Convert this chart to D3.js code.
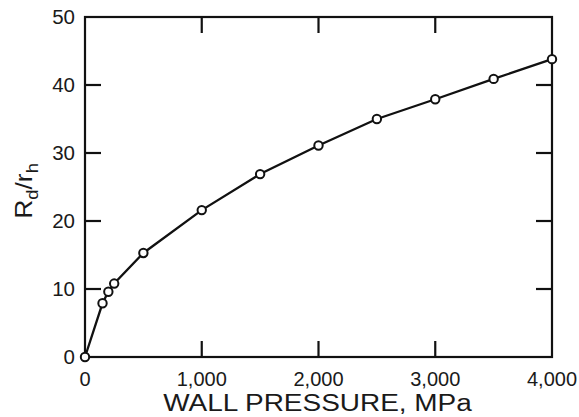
<!DOCTYPE html>
<html>
<head>
<meta charset="utf-8">
<script src="https://cdn.jsdelivr.net/npm/d3@7"></script>
<style>
  body { margin: 0; background: #fff; }
  text { font-family: "Liberation Sans", Arial, sans-serif; fill: #1a1a1a; }
</style>
</head>
<body>
<div id="graph"></div>
<script>
// wall pressure (MPa) vs Rd/rh
var pressure = [0, 150, 200, 250, 500, 1000, 1500, 2000, 2500, 3000, 3500, 4000]
var ratio    = [0, 7.9, 9.6, 10.8, 15.3, 21.6, 26.9, 31.1, 35.0, 37.9, 40.9, 43.8]

var xTicks = [0, 1000, 2000, 3000, 4000]
var yTicks = [0, 10, 20, 30, 40, 50]

var W = 579, H = 417
var m = { left: 85, right: 27, top: 17, bottom: 60 }

var svg = d3.select('#graph').append('svg')
  .attr('width', W)
  .attr('height', H)

var x = d3.scaleLinear().domain([0, 4000]).range([m.left, W - m.right])
var y = d3.scaleLinear().domain([0, 50]).range([H - m.bottom, m.top])

var tickLen = 16
var fmt = d3.format(',')

// inward ticks on all four sides (skip the corners)
var inner = xTicks.slice(1, -1)
var innerY = yTicks.slice(1, -1)

svg.append('g').selectAll('line.xb').data(inner).join('line')
  .attr('x1', d => x(d)).attr('x2', d => x(d))
  .attr('y1', y(0)).attr('y2', y(0) - tickLen)
svg.append('g').selectAll('line.xt').data(inner).join('line')
  .attr('x1', d => x(d)).attr('x2', d => x(d))
  .attr('y1', y(50)).attr('y2', y(50) + tickLen)
svg.append('g').selectAll('line.yl').data(innerY).join('line')
  .attr('y1', d => y(d)).attr('y2', d => y(d))
  .attr('x1', x(0)).attr('x2', x(0) + tickLen)
svg.append('g').selectAll('line.yr').data(innerY).join('line')
  .attr('y1', d => y(d)).attr('y2', d => y(d))
  .attr('x1', x(4000)).attr('x2', x(4000) - tickLen)
svg.selectAll('g line').attr('stroke', '#111').attr('stroke-width', 2.2)

// frame
svg.append('rect')
  .attr('x', x(0)).attr('y', y(50))
  .attr('width', x(4000) - x(0)).attr('height', y(0) - y(50))
  .attr('fill', 'none').attr('stroke', '#111').attr('stroke-width', 2.2)

// tick labels
svg.append('g').selectAll('text').data(xTicks).join('text')
  .attr('x', d => x(d)).attr('y', y(0) + 28.5)
  .attr('text-anchor', 'middle').attr('font-size', 20)
  .text(d => fmt(d))

svg.append('g').selectAll('text').data(yTicks).join('text')
  .attr('x', x(0) - 10).attr('y', d => y(d)).attr('dy', '0.36em')
  .attr('text-anchor', 'end').attr('font-size', 20.5)
  .text(d => d)

// axis titles
svg.append('text')
  .attr('transform', `translate(${(x(0) + x(4000)) / 2 - 1},411) scale(1.19,1)`)
  .attr('text-anchor', 'middle').attr('font-size', 23.5)
  .text('WALL PRESSURE, MPa')

var yl = svg.append('text')
  .attr('transform', `translate(32,191) rotate(-90) scale(1.15,1)`)
  .attr('text-anchor', 'middle').attr('font-size', 23)
yl.append('tspan').text('R')
yl.append('tspan').attr('font-size', 16).attr('dy', 6).text('d')
yl.append('tspan').attr('dy', -6).text('/r')
yl.append('tspan').attr('font-size', 16).attr('dy', 6).text('h')

// curve + markers
var pts = pressure.map((p, i) => [p, ratio[i]])

svg.append('path')
  .datum(pts)
  .attr('fill', 'none').attr('stroke', '#111').attr('stroke-width', 2.3)
  .attr('d', d3.line().x(d => x(d[0])).y(d => y(d[1])))

svg.append('g').selectAll('circle').data(pts).join('circle')
  .attr('cx', d => x(d[0])).attr('cy', d => y(d[1]))
  .attr('r', 4.2)
  .attr('fill', '#fff').attr('stroke', '#111').attr('stroke-width', 2)
</script>
</body>
</html>
